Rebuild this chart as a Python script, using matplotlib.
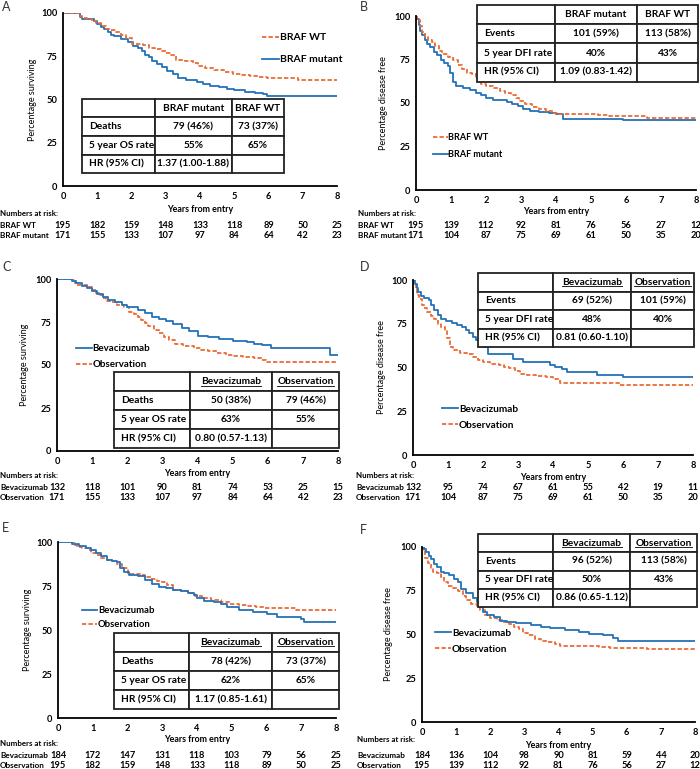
import matplotlib.pyplot as plt
from matplotlib import font_manager
from matplotlib.patches import Rectangle
from matplotlib.lines import Line2D
from matplotlib.transforms import blended_transform_factory


def bold_family(cands):
    # first family that really has a bold face installed
    for fam in cands:
        for f in font_manager.fontManager.ttflist:
            if f.name == fam and f.weight in (600, 700, 800, 900, 'bold', 'semibold', 'heavy', 'black'):
                return fam
    return 'DejaVu Sans'


FAM = bold_family(['Lato', 'Open Sans', 'Noto Sans', 'Roboto', 'Liberation Sans'])
plt.rcParams['font.family'] = [FAM, 'DejaVu Sans']
plt.rcParams['font.weight'] = 'bold'

W, H = 700, 769
BLUE = '#2472B8'
ORANGE = '#EC6B35'
years = list(range(9))
SMALL = 6.7   # tick labels and risk numbers
NAME = 5.9    # row names of the risk table
TAB = 7.3     # summary tables

# Kaplan-Meier curves (time in years, percentage)
wt_os_t = [0, 0.5, 0.55, 0.7, 0.85, 0.95, 1.1, 1.25, 1.4, 1.55, 1.7, 1.85, 2.0, 2.35, 2.5, 2.7,
           2.85, 3.0, 3.15, 3.3, 3.55, 3.8, 3.95, 4.15, 4.4, 4.7, 4.95, 5.2, 5.45, 5.7, 5.95, 6.85]
wt_os_s = [100, 98.5, 97, 96.5, 95.5, 94, 92.5, 91, 90, 89, 87.5, 85.5, 82, 81.5, 80, 79,
           78, 77, 75.5, 73, 72, 71, 69.5, 68, 67, 66, 65, 64, 63.5, 63, 62.5, 61.5]
mut_os_t = [0, 0.5, 0.55, 0.9, 1.0, 1.1, 1.2, 1.3, 1.4, 1.5, 1.7, 1.9, 2.05, 2.2, 2.3, 2.4, 2.5,
            2.6, 2.75, 2.9, 3.05, 3.2, 3.35, 3.6, 3.9, 4.1, 4.3, 4.55, 4.8, 5.0, 5.3, 5.6, 5.85, 5.95]
mut_os_s = [100, 97.5, 96.5, 95.5, 93.5, 92, 90.5, 89, 87.5, 86.5, 85, 83.5, 81, 79.5, 78, 76, 74.5,
            72.5, 70.5, 68.5, 66.5, 64.5, 62.5, 61, 60, 59, 58, 57, 56, 55.5, 54.5, 54, 53, 52]
wt_dfi_t = [0, 0.04, 0.1, 0.17, 0.25, 0.33, 0.45, 0.55, 0.65, 0.75, 0.9, 1.05, 1.2, 1.3, 1.45, 1.6,
            1.7, 1.85, 2.0, 2.2, 2.4, 2.55, 2.7, 2.85, 2.95, 3.1, 3.3, 3.5, 3.7, 3.9, 4.05, 5.2, 5.5, 6.6]
wt_dfi_s = [100, 97.5, 94, 91, 88, 86, 85, 83, 80, 78, 76.5, 75, 72, 69.5, 67.5, 66.5,
            64, 61, 59.5, 58.5, 57, 56, 54.5, 53, 51, 49.5, 47.5, 46.5, 45.5, 44.5, 43.5, 43, 42.5, 41.5]
mut_dfi_t = [0, 0.03, 0.08, 0.12, 0.18, 0.25, 0.32, 0.4, 0.5, 0.6, 0.7, 0.8, 0.9, 0.98, 1.05, 1.15,
             1.35, 1.55, 1.7, 1.85, 2.0, 2.2, 2.45, 2.6, 2.75, 2.9, 3.05, 3.25, 3.5, 3.8, 4.0, 4.2, 5.9]
mut_dfi_s = [100, 98.5, 95, 91.5, 89, 86, 84, 82, 79.5, 77.5, 75, 73, 71, 67, 62, 60,
             58.5, 57.5, 56, 54.5, 53, 52, 51.5, 50.5, 49.5, 48, 46.5, 45.5, 45, 44.5, 43.5, 41, 40]
bev_c_t = [0, 0.42, 0.55, 0.7, 0.85, 1.0, 1.15, 1.3, 1.45, 1.65, 1.85, 2.0, 2.3, 2.5, 2.7, 2.9, 3.1,
           3.3, 3.55, 3.75, 4.0, 4.3, 4.6, 5.0, 5.4, 5.6, 5.85, 6.1, 7.78]
bev_c_s = [100, 99, 97.5, 96, 94.5, 93, 91, 89.5, 88, 86.5, 85, 83.5, 82, 80.5, 78, 76.5, 75.5,
           74, 71.5, 69.5, 67, 66.5, 65, 64, 63.5, 62.5, 61.5, 60, 56]
bev_d_t = [0, 0.05, 0.1, 0.15, 0.22, 0.3, 0.45, 0.52, 0.6, 0.7, 0.8, 0.95, 1.1, 1.25, 1.4, 1.5,
           1.6, 1.7, 1.8, 1.9, 2.0, 2.15, 2.85, 3.15, 3.9, 4.05, 4.25, 4.4, 5.25, 6.0]
bev_d_s = [100, 98, 95.5, 93, 91, 90, 88.5, 86, 83, 80, 78, 76.5, 75.5, 74.5, 73, 71.5,
           70, 67.5, 66, 64, 62, 58, 55, 53, 51.5, 50.5, 49, 47.5, 45.5, 44.5]
bev_e_t = [0, 0.4, 0.6, 0.8, 0.95, 1.1, 1.25, 1.4, 1.55, 1.7, 1.78, 1.9, 2.05, 2.3, 2.5, 2.7, 2.9,
           3.1, 3.3, 3.55, 3.75, 3.9, 4.0, 4.2, 4.5, 4.7, 4.85, 5.2, 5.6, 6.0, 6.3, 7.0, 7.08]
bev_e_s = [100, 99, 97.5, 96.5, 95.5, 94, 92, 90, 89, 88.5, 85, 83, 81.5, 80.5, 78.5, 76, 74.5,
           74, 73, 72, 71, 70, 68, 66.5, 66, 65, 63, 61.5, 60.5, 59, 57.5, 56, 54.5]
bev_f_t = [0, 0.05, 0.12, 0.2, 0.27, 0.35, 0.45, 0.55, 0.65, 0.8, 0.95, 1.05, 1.15, 1.3, 1.4, 1.5,
           1.6, 1.7, 1.8, 1.9, 2.1, 2.3, 2.5, 2.75, 3.2, 3.5, 3.75, 4.2, 4.6, 4.9, 5.3, 5.6, 5.75]
bev_f_s = [100, 99, 97, 95, 93, 90.5, 88.5, 86, 85, 84, 82, 80, 76, 74, 73.5, 71,
           68.5, 66, 63, 61, 60, 58, 57, 56.5, 55.5, 54.5, 53.5, 52.5, 51.5, 50.5, 49.5, 48, 46.5]

# numbers at risk
risk_wt_os = [195, 182, 159, 148, 133, 118, 89, 50, 25]
risk_mut_os = [171, 155, 133, 107, 97, 84, 64, 42, 23]
risk_wt_dfi = [195, 139, 112, 92, 81, 76, 56, 27, 12]
risk_mut_dfi = [171, 104, 87, 75, 69, 61, 50, 35, 20]
risk_bev_c = [132, 118, 101, 90, 81, 74, 53, 25, 15]
risk_bev_d = [132, 95, 74, 67, 61, 55, 42, 19, 11]
risk_bev_e = [184, 172, 147, 131, 118, 103, 79, 56, 25]
risk_bev_f = [184, 136, 104, 98, 90, 81, 59, 44, 20]

# summary tables
head_braf = ['', 'BRAF mutant', 'BRAF WT']
head_bev = ['', 'Bevacizumab', 'Observation']
tab_a = [['Deaths', '79 (46%)', '73 (37%)'], ['5 year OS rate', '55%', '65%'], ['HR (95% CI)', '1.37 (1.00-1.88)', '']]
tab_b = [['Events', '101 (59%)', '113 (58%)'], ['5 year DFI rate', '40%', '43%'], ['HR (95% CI)', '1.09 (0.83-1.42)', '']]
tab_c = [['Deaths', '50 (38%)', '79 (46%)'], ['5 year OS rate', '63%', '55%'], ['HR (95% CI)', '0.80 (0.57-1.13)', '']]
tab_d = [['Events', '69 (52%)', '101 (59%)'], ['5 year DFI rate', '48%', '40%'], ['HR (95% CI)', '0.81 (0.60-1.10)', '']]
tab_e = [['Deaths', '78 (42%)', '73 (37%)'], ['5 year OS rate', '62%', '65%'], ['HR (95% CI)', '1.17 (0.85-1.61)', '']]
tab_f = [['Events', '96 (52%)', '113 (58%)'], ['5 year DFI rate', '50%', '43%'], ['HR (95% CI)', '0.86 (0.65-1.12)', '']]

fig = plt.figure(figsize=(7, 7.69), dpi=100)
underlined = []


def add_axes_px(x0, y0, x1, y1):
    return fig.add_axes([x0 / W, 1 - y1 / H, (x1 - x0) / W, (y1 - y0) / H])


def km(ax, t, s, color, dashed, label):
    ax.step(list(t) + [8], list(s) + [s[-1]], where='post', color=color, lw=1.3,
            ls=(0, (2.4, 1.2)) if dashed else '-', label=label)


def draw_table(ax, cols, ytop, ybot, header, rows, underline):
    nrow = len(rows) + 1
    h = (ytop - ybot) / nrow
    allrows = [header] + rows
    for i, row in enumerate(allrows):
        y0 = ytop - (i + 1) * h
        for j, txt in enumerate(row):
            x0, x1 = cols[j], cols[j + 1]
            ax.add_patch(Rectangle((x0, y0), x1 - x0, h, fc='white', ec='#222222', lw=1.3,
                                   clip_on=False, zorder=5))
            if j == 0:
                t = ax.text(x0 + 0.2, y0 + h / 2, txt, ha='left', va='center', fontsize=TAB, zorder=6)
            else:
                t = ax.text((x0 + x1) / 2, y0 + h / 2, txt, ha='center', va='center', fontsize=TAB, zorder=6)
            if i == 0 and underline and txt:
                underlined.append(t)


def panel(rect, letter, letter_xy, ylabel, ylab_x, curves, leg, table, risk):
    ax = add_axes_px(*rect)
    for t, s, color, dashed, label in curves:
        km(ax, t, s, color, dashed, label)
    ax.set_xlim(0, 8)
    ax.set_ylim(0, 100)
    ax.set_xticks(years)
    ax.set_yticks([0, 25, 50, 75, 100])
    ax.tick_params(length=0, labelsize=SMALL, pad=4)
    for sp in ['top', 'right']:
        ax.spines[sp].set_visible(False)
    for sp in ['left', 'bottom']:
        ax.spines[sp].set_linewidth(1.3)
    ax.set_ylabel(ylabel, fontsize=6.5)
    ax.yaxis.set_label_coords(ylab_x, 0.5)

    handles, labels = ax.get_legend_handles_labels()
    order, anchor, fs, spacing = leg
    ax.legend([handles[k] for k in order], [labels[k] for k in order], loc='upper left',
              bbox_to_anchor=anchor, frameon=False, fontsize=fs, handlelength=1.6,
              handletextpad=0.1, borderpad=0, borderaxespad=0, labelspacing=spacing)

    cols, ytop, ybot, header, rows, underline = table
    draw_table(ax, cols, ytop, ybot, header, rows, underline)

    fig.text(letter_xy[0] / W, 1 - letter_xy[1] / H, letter, fontsize=9, fontweight='normal',
             color='#333333', ha='left', va='center')

    name_x, y_xl, y_nar, y_r1, y_r2, names, r1, r2 = risk
    tr = blended_transform_factory(ax.transData, fig.transFigure)
    fig.text((rect[0] + rect[2]) / 2 / W, 1 - y_xl / H, 'Years from entry', fontsize=6.4,
             ha='center', va='center')
    fig.text(name_x / W, 1 - y_nar / H, 'Numbers at risk:', fontsize=5.7, ha='left', va='center')
    fig.text(name_x / W, 1 - y_r1 / H, names[0], fontsize=NAME, ha='left', va='center')
    fig.text(name_x / W, 1 - y_r2 / H, names[1], fontsize=NAME, ha='left', va='center')
    for yr, a, b in zip(years, r1, r2):
        ax.text(yr, 1 - y_r1 / H, str(a), transform=tr, fontsize=SMALL, ha='center', va='center')
        ax.text(yr, 1 - y_r2 / H, str(b), transform=tr, fontsize=SMALL, ha='center', va='center')
    return ax


# A
panel((63, 13, 337, 186), 'A', (2, 7), 'Percentage surviving', -0.095,
      [(mut_os_t, mut_os_s, BLUE, False, 'BRAF mutant'), (wt_os_t, wt_os_s, ORANGE, True, 'BRAF WT')],
      ([1, 0], (0.726, 0.884), 7.5, 1.2),
      ([0.55, 2.69, 4.93, 6.45], 50.3, 7.5, head_braf, tab_a, False),
      (0, 210, 213, 225, 236, ['BRAF WT', 'BRAF mutant'], risk_wt_os, risk_mut_os))
# B
panel((416, 16, 696, 190), 'B', (360, 7), 'Percentage disease free', -0.1,
      [(mut_dfi_t, mut_dfi_s, BLUE, False, 'BRAF mutant'), (wt_dfi_t, wt_dfi_s, ORANGE, True, 'BRAF WT')],
      ([1, 0], (0.061, 0.325), 6.5, 0.8),
      ([1.74, 3.97, 6.31, 8.06], 106.3, 62.1, head_braf, tab_b, False),
      (358, 212, 214, 225, 236, ['BRAF WT', 'BRAF mutant'], risk_wt_dfi, risk_mut_dfi))
# C
panel((57, 279, 338, 451), 'C', (2, 267), 'Percentage surviving', -0.1,
      [(mut_os_t, mut_os_s, ORANGE, True, 'Observation'), (bev_c_t, bev_c_s, BLUE, False, 'Bevacizumab')],
      ([1, 0], (0.068, 0.622), 7.0, 0.75),
      ([1.62, 3.79, 6.12, 8.03], 45.9, 1.7, head_bev, tab_c, True),
      (0, 474, 476, 487, 498, ['Bevacizumab', 'Observation'], risk_bev_c, risk_mut_os))
# D
panel((413, 280, 693, 455), 'D', (360, 267), 'Percentage disease free', -0.096,
      [(mut_dfi_t, mut_dfi_s, ORANGE, True, 'Observation'), (bev_d_t, bev_d_s, BLUE, False, 'Bevacizumab')],
      ([1, 0], (0.104, 0.288), 7.2, 0.7),
      ([1.86, 4.0, 6.23, 8.03], 104, 61.7, head_bev, tab_d, True),
      (356, 477, 475, 488, 498, ['Bevacizumab', 'Observation'], risk_bev_d, risk_mut_dfi))
# E
panel((58, 542, 336, 718), 'E', (2, 528), 'Percentage surviving', -0.094,
      [(wt_os_t, wt_os_s, ORANGE, True, 'Observation'), (bev_e_t, bev_e_s, BLUE, False, 'Bevacizumab')],
      ([1, 0], (0.086, 0.635), 6.8, 0.55),
      ([1.61, 3.77, 6.16, 8.09], 48.3, 5.1, head_bev, tab_e, True),
      (0, 740, 743, 755, 765, ['Bevacizumab', 'Observation'], risk_bev_e, risk_wt_os))
# F
panel((422, 547, 695, 722), 'F', (360, 530), 'Percentage disease free', -0.106,
      [(wt_dfi_t, wt_dfi_s, ORANGE, True, 'Observation'), (bev_f_t, bev_f_s, BLUE, False, 'Bevacizumab')],
      ([1, 0], (0.048, 0.534), 7.2, 0.7),
      ([1.64, 3.84, 6.1, 8.06], 107.4, 65.7, head_bev, tab_f, True),
      (357, 745, 740, 755, 765, ['Bevacizumab', 'Observation'], risk_bev_f, risk_wt_dfi))

# underline the column headers of tables C-F
fig.canvas.draw()
renderer = fig.canvas.get_renderer()
for t in underlined:
    bb = t.get_window_extent(renderer)
    y = (bb.y0 + 0.5) / fig.bbox.height
    fig.add_artist(Line2D([bb.x0 / fig.bbox.width, bb.x1 / fig.bbox.width], [y, y],
                          transform=fig.transFigure, color='#222222', lw=0.7, zorder=7))

fig.savefig('out.png', dpi=100)
